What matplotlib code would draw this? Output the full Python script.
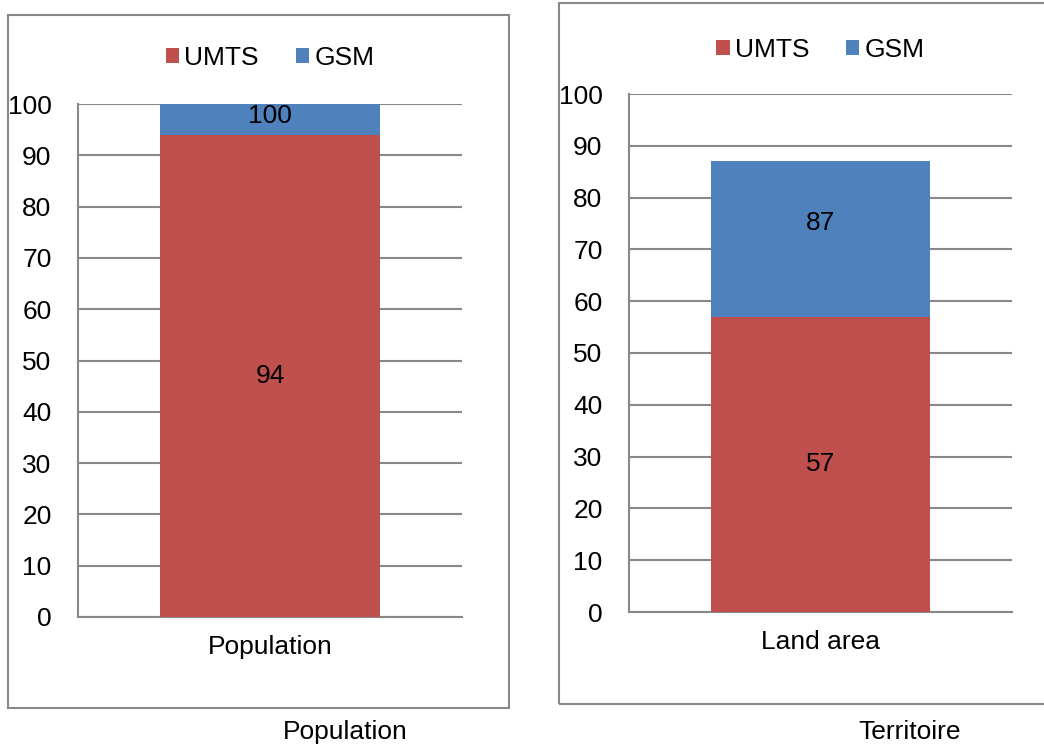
import matplotlib
matplotlib.use("Agg")
import matplotlib.pyplot as plt
from matplotlib.patches import Rectangle

plt.rcParams['font.family'] = ['Liberation Sans', 'DejaVu Sans']

# data: UMTS coverage and total (GSM) coverage, percent
categories = ["Population", "Land area"]
captions = ["Population", "Territoire"]
umts = [94, 57]
gsm = [100, 87]
series_names = ["UMTS", "GSM"]

RED = "#C0504D"
BLUE = "#4F81BD"
GRID = "#888888"
FS = 19

W, H = 1044, 744
fig = plt.figure(figsize=(W / 100, H / 100), dpi=100)


def fx(px):
    return px / W


def fy(py):
    return 1 - py / H


# pixel layout of each panel: frame box, axes box, legend/caption positions
panels = [
    dict(box=(8, 15, 509, 708), ax=(78, 104, 462, 617), leg_y=58, cap=(345, 732)),
    dict(box=(559, 3, 1050, 704), ax=(629, 94, 1012, 612), leg_y=50, cap=(910, 732)),
]

for i, p in enumerate(panels):
    bx0, by0, bx1, by1 = p["box"]
    fig.patches.append(Rectangle((fx(bx0), fy(by1)), fx(bx1 - bx0), (by1 - by0) / H,
                                 transform=fig.transFigure, fill=False,
                                 edgecolor=GRID, linewidth=1.5))
    ax0, ay0, ax1, ay1 = p["ax"]
    ax = fig.add_axes([fx(ax0), fy(ay1), fx(ax1 - ax0), (ay1 - ay0) / H])

    bw = 0.573
    ax.bar([0], [umts[i]], width=bw, color=RED, zorder=3, label=series_names[0])
    ax.bar([0], [gsm[i] - umts[i]], bottom=[umts[i]], width=bw, color=BLUE, zorder=3,
           label=series_names[1])
    ax.text(0, umts[i] / 2, str(umts[i]), ha="center", va="center", fontsize=FS, zorder=4)
    ax.text(0, umts[i] + 0.6 * (gsm[i] - umts[i]), str(gsm[i]), ha="center", va="center",
            fontsize=FS, zorder=4)

    ax.set_xlim(-0.5, 0.5)
    ax.set_ylim(0, 100)
    ax.set_yticks(range(0, 101, 10))
    ax.set_xticks([0])
    ax.set_xticklabels([categories[i]], fontsize=FS)
    ax.tick_params(axis="both", length=0, labelsize=FS)
    ax.tick_params(axis="y", pad=19)
    ax.tick_params(axis="x", pad=13)
    ax.yaxis.grid(True, color=GRID, linewidth=1.5, zorder=0)
    ax.set_axisbelow(True)
    for s in ["top", "right"]:
        ax.spines[s].set_visible(False)
    for s in ["left", "bottom"]:
        ax.spines[s].set_color(GRID)
        ax.spines[s].set_linewidth(1.5)

    handles, labels = ax.get_legend_handles_labels()
    fig.legend(handles, labels, loc="center", ncol=2, frameon=False, fontsize=FS,
               bbox_to_anchor=(fx((ax0 + ax1) / 2), fy(p["leg_y"])),
               handlelength=0.5, handleheight=0.5, handletextpad=0.2, columnspacing=1.4)

    fig.text(fx(p["cap"][0]), fy(p["cap"][1]), captions[i], ha="center", va="center",
             fontsize=FS)

fig.savefig("out.png", dpi=100)
